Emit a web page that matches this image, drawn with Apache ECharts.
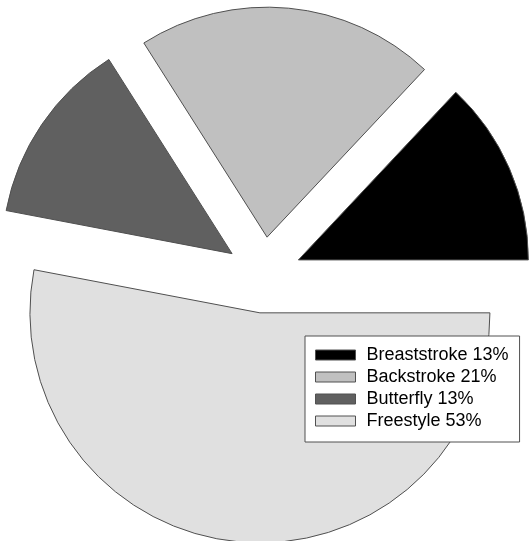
<!DOCTYPE html>
<html>
<head>
<meta charset="utf-8">
<script src="https://cdn.jsdelivr.net/npm/echarts@6/dist/echarts.min.js"></script>
<style>
  html, body { margin: 0; padding: 0; background: #ffffff; }
  #chart { width: 529px; height: 541px; }
</style>
</head>
<body>
<div id="chart"></div>
<script>
// Share of swimming time per stroke (percent)
const strokes = ['Breaststroke', 'Backstroke', 'Butterfly', 'Freestyle'];
const shares = [13, 21, 13, 53];
const sliceColors = ['#000000', '#c0c0c0', '#606060', '#e0e0e0'];

const chart = echarts.init(document.getElementById('chart'), null, { renderer: 'canvas' });

const pieData = strokes.map((name, i) => ({
  name: name,
  value: shares[i],
  selected: true,
  itemStyle: { color: sliceColors[i] }
}));

chart.setOption({
  animation: false,
  backgroundColor: '#ffffff',
  legend: {
    orient: 'vertical',
    left: 305,
    top: 336,
    padding: [10, 11, 12, 10],
    itemWidth: 40,
    itemHeight: 10,
    itemGap: 4,
    icon: 'rect',
    backgroundColor: '#ffffff',
    borderColor: '#505050',
    borderWidth: 1,
    borderRadius: 0,
    selectedMode: false,
    data: strokes,
    formatter: name => name + ' ' + shares[strokes.indexOf(name)] + '%',
    itemStyle: { borderColor: '#505050', borderWidth: 1 },
    textStyle: {
      fontFamily: 'Liberation Sans, Arial, sans-serif',
      fontSize: 18,
      lineHeight: 18,
      color: '#000000',
      padding: [0, 0, 0, 6]
    }
  },
  series: [{
    type: 'pie',
    center: [263.5, 275],
    radius: [0, 230],
    startAngle: 0,
    clockwise: false,
    selectedMode: 'multiple',
    selectedOffset: 38,
    avoidLabelOverlap: false,
    label: { show: false },
    labelLine: { show: false },
    emphasis: { disabled: true },
    itemStyle: { borderColor: '#505050', borderWidth: 1 },
    data: pieData
  }]
});
</script>
</body>
</html>
